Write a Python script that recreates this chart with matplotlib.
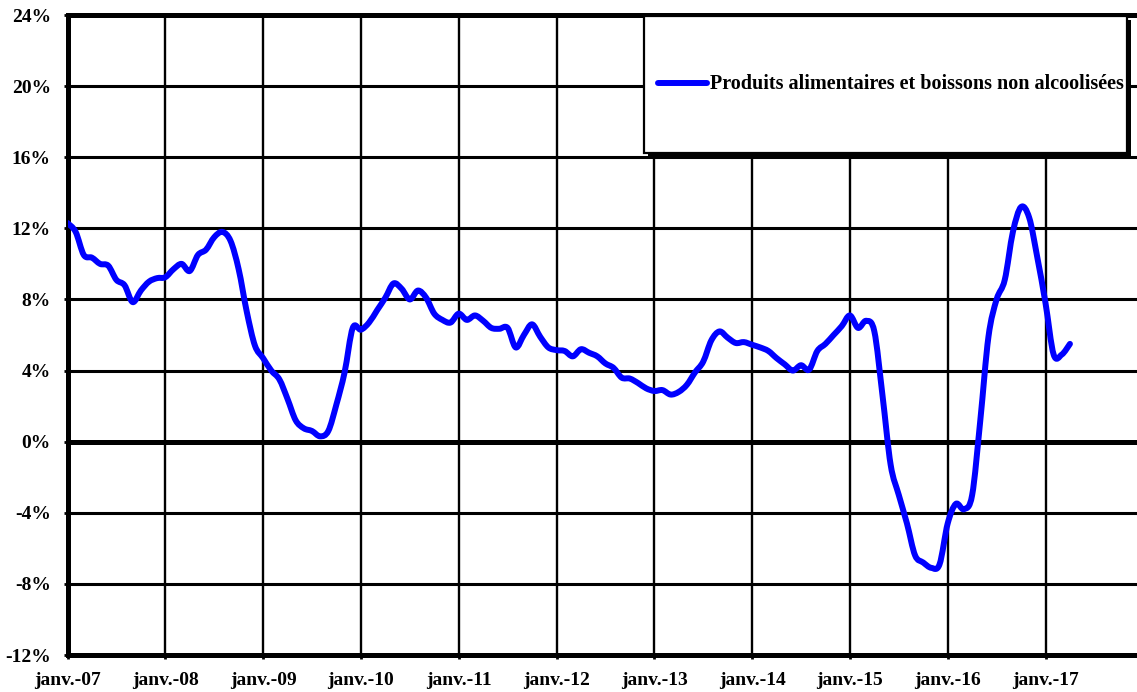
import numpy as np
import matplotlib; matplotlib.use("Agg")
import matplotlib.pyplot as plt
from matplotlib.patches import Rectangle, PathPatch
from matplotlib.lines import Line2D
from matplotlib.path import Path

plt.rcParams["font.family"] = ["Liberation Serif", "DejaVu Serif"]
plt.rcParams["font.weight"] = "bold"

# glissement annuel mensuel, janv. 2007 -> avr. 2017 (%)
glissement = [
    12.3, 11.8, 10.5, 10.35, 10.0, 9.9, 9.1, 8.8, 7.85, 8.5, 9.0, 9.2,        # 2007
    9.25, 9.7, 10.0, 9.6, 10.5, 10.8, 11.5, 11.8, 11.3, 9.7, 7.3, 5.4,        # 2008
    4.7, 4.0, 3.5, 2.4, 1.2, 0.75, 0.6, 0.3, 0.6, 2.1, 3.9, 6.4,              # 2009
    6.3, 6.7, 7.4, 8.1, 8.9, 8.6, 8.0, 8.5, 8.1, 7.2, 6.85, 6.7,              # 2010
    7.2, 6.85, 7.1, 6.8, 6.4, 6.35, 6.4, 5.3, 6.0, 6.6, 5.9, 5.3,             # 2011
    5.15, 5.1, 4.8, 5.2, 5.0, 4.8, 4.4, 4.15, 3.6, 3.55, 3.3, 3.0,            # 2012
    2.85, 2.9, 2.65, 2.8, 3.2, 3.9, 4.5, 5.7, 6.2, 5.85, 5.55, 5.6,           # 2013
    5.45, 5.3, 5.1, 4.7, 4.35, 4.0, 4.3, 4.05, 5.1, 5.5, 6.0, 6.5,            # 2014
    7.1, 6.4, 6.8, 6.2, 2.6, -1.3, -3.0, -4.6, -6.4, -6.8, -7.1, -6.9,        # 2015
    -4.6, -3.5, -3.8, -3.0, 1.2, 5.9, 8.0, 9.1, 11.8, 13.2, 12.6, 10.35,      # 2016
    7.8, 4.9, 4.9, 5.5,                                                       # 2017
]
annees = ["janv.-07", "janv.-08", "janv.-09", "janv.-10", "janv.-11", "janv.-12",
          "janv.-13", "janv.-14", "janv.-15", "janv.-16", "janv.-17"]
y_ticks = [-12, -8, -4, 0, 4, 8, 12, 16, 20, 24]
serie = "Produits alimentaires et boissons non alcoolisées"

W, H = 1137, 692
fig = plt.figure(figsize=(W / 100, H / 100), dpi=100)

def fx(px): return px / W
def fy(py): return 1 - py / H

def courbe_lissee(x, y):
    """Courbe de Bézier passant par chaque point (lissage type tableur)."""
    p = np.column_stack([x, y]).astype(float)
    ext = np.vstack([p[0], p, p[-1]])
    verts, codes = [p[0]], [Path.MOVETO]
    for i in range(len(p) - 1):
        c1 = p[i] + (ext[i + 2] - ext[i]) / 6
        c2 = p[i + 1] - (ext[i + 3] - ext[i + 1]) / 6
        verts += [c1, c2, p[i + 1]]
        codes += [Path.CURVE4] * 3
    return Path(verts, codes)

# zone de tracé : le bord droit est coupé par l'image
ax = fig.add_axes([fx(67.5), fy(655), 1 - fx(67.5), fy(15) - fy(655)])
mois = np.arange(len(glissement))
ax.set_xlim(0, (W - 67.5) / 8.15)
ax.set_ylim(-12, 24)

for t in range(0, 12 * len(annees), 12):
    ax.axvline(t, color="black", lw=1.7, zorder=1)
for v in y_ticks:
    ax.axhline(v, color="black", lw=3.6 if v == 0 else 2.2, zorder=1)

ax.add_patch(PathPatch(courbe_lissee(mois, glissement), facecolor="none",
                       edgecolor="#0000ff", lw=4.3, capstyle="round",
                       joinstyle="round", zorder=3))

ax.set_xticks(range(0, 12 * len(annees), 12))
ax.set_xticklabels(annees)
ax.set_yticks(y_ticks)
ax.set_yticklabels([f"{v}%" for v in y_ticks])
ax.tick_params(axis="both", length=3, width=2, labelsize=14, colors="black")
ax.tick_params(axis="y", pad=9)
ax.tick_params(axis="x", pad=9)

for s in ("left", "bottom", "top"):
    ax.spines[s].set_linewidth(3.6)
ax.spines["right"].set_visible(False)

# cadre de légende avec ombre portée
fig.add_artist(Rectangle((fx(648), fy(157)), fx(1131) - fx(648), fy(20) - fy(157),
                         transform=fig.transFigure, facecolor="black", edgecolor="none", zorder=5))
fig.add_artist(Rectangle((fx(644), fy(153)), fx(1127) - fx(644), fy(16) - fy(153),
                         transform=fig.transFigure, facecolor="white", edgecolor="black",
                         lw=1.6, zorder=6))
fig.add_artist(Line2D([fx(658), fx(707)], [fy(83), fy(83)], transform=fig.transFigure,
                      color="#0000ff", lw=4.3, solid_capstyle="round", zorder=7))
fig.text(fx(710), fy(84), serie, fontsize=14.5, fontweight="bold",
         va="center", ha="left", zorder=7)

fig.savefig("out.png", dpi=100)
